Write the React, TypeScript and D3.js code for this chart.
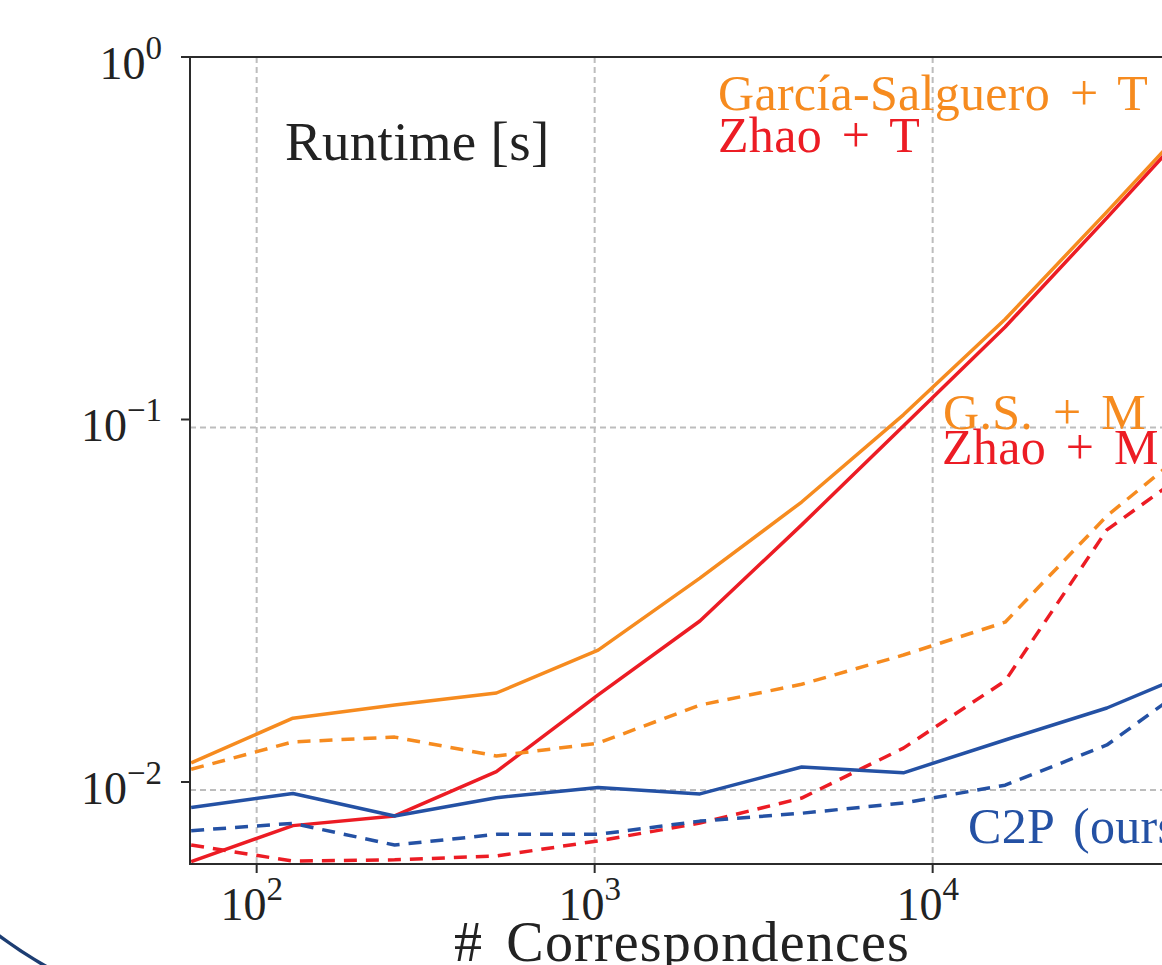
import React from 'react';
import * as d3 from 'd3';

// number of correspondences (x) and runtimes in seconds (y)
const sizes = [64, 128, 256, 512, 1024, 2048, 4096, 8192, 16384, 32768, 65536];
const garciaT = [0.01129, 0.0150, 0.0163, 0.0176, 0.0231, 0.0365, 0.0592, 0.103, 0.189, 0.374, 0.75];
const zhaoT = [0.00603, 0.00758, 0.00806, 0.01068, 0.0174, 0.0278, 0.0512, 0.096, 0.180, 0.360, 0.73];
const gsM = [0.01084, 0.0129, 0.0133, 0.0118, 0.0128, 0.0163, 0.0186, 0.0224, 0.0276, 0.0542, 0.092];
const zhaoM = [0.0067, 0.00605, 0.0061, 0.00625, 0.00688, 0.0077, 0.00903, 0.0124, 0.019, 0.0496, 0.079];
const c2pT = [0.00851, 0.0093, 0.00806, 0.00905, 0.00965, 0.00927, 0.011, 0.0106, 0.01306, 0.016, 0.021];
const c2pM = [0.00734, 0.00769, 0.0067, 0.00717, 0.00717, 0.0078, 0.0082, 0.00875, 0.0098, 0.01265, 0.0202];

const xTicks = [100, 1000, 10000];
const xTickExp = ['2', '3', '4'];
const yTicks = [1, 0.1, 0.01];
const yTickExp = ['0', '\u22121', '\u22122'];

const ORANGE = '#f68b1f';
const RED = '#ec1c24';
const BLUE = '#2451a4';
const FONT = '"Liberation Serif", "Times New Roman", serif';

const W = 1162;
const H = 965;
const left = 190;
const top = 57;
const bottom = 864;
const decadeX = 338;

const series = [
    {values: garciaT, color: ORANGE, dash: null},
    {values: zhaoT, color: RED, dash: null},
    {values: gsM, color: ORANGE, dash: '13,9'},
    {values: zhaoM, color: RED, dash: '13,9'},
    {values: c2pT, color: BLUE, dash: null},
    {values: c2pM, color: BLUE, dash: '13,9'},
];

export default function App() {
    const xMin = 63.5;
    const xMax = 131072;
    const x = d3.scaleLog()
        .domain([xMin, xMax])
        .range([left, left + decadeX * Math.log10(xMax / xMin)]);
    const y = d3.scaleLog().domain([0.00594, 1]).range([bottom, top]);
    const right = x(xMax);

    const line = d3.line<number>()
        .x((d, i) => x(sizes[i]))
        .y((d) => y(d));

    return (
        <svg width={W} height={H} style={{position: 'absolute', left: 0, top: 0, background: '#fff'}}
             fontFamily={FONT}>
            <defs>
                <clipPath id="plot">
                    <rect x={left} y={top} width={right - left} height={bottom - top}/>
                </clipPath>
                <clipPath id="corner">
                    <rect x={0} y={880} width={130} height={90}/>
                </clipPath>
            </defs>

            {/* grid */}
            <g stroke="#bdbdbd" strokeWidth={2} strokeDasharray="6,4">
                {xTicks.map((t) => (
                    <line key={t} x1={x(t)} x2={x(t)} y1={top} y2={bottom}/>
                ))}
                <g transform="translate(0,8)">
                    {yTicks.slice(1).map((t) => (
                        <line key={t} x1={left} x2={right} y1={y(t)} y2={y(t)}/>
                    ))}
                </g>
            </g>

            {/* lines */}
            <g clipPath="url(#plot)" fill="none" strokeWidth={3.5} strokeLinejoin="round">
                {series.map((s, i) => (
                    <path key={i} d={line(s.values) || ''} stroke={s.color}
                          strokeDasharray={s.dash || undefined}/>
                ))}
            </g>

            {/* spines and ticks */}
            <g stroke="#2b2b2b" strokeWidth={2} fill="none">
                <line x1={left} x2={left} y1={top - 1} y2={bottom + 1}/>
                <line x1={left - 9} x2={right} y1={top} y2={top}/>
                <line x1={left} x2={right} y1={bottom} y2={bottom}/>
                {yTicks.map((t) => (
                    <line key={t} x1={left - 9} x2={left} y1={y(t)} y2={y(t)}/>
                ))}
                {xTicks.map((t) => (
                    <line key={t} x1={x(t)} x2={x(t)} y1={bottom} y2={bottom + 9}/>
                ))}
            </g>

            {/* tick labels */}
            <g fill="#222">
                {yTicks.map((t, i) => (
                    <text key={t} x={162} y={y(t) + 22} textAnchor="end" fontSize={46}>
                        10<tspan fontSize={33} dy={-20}>{yTickExp[i]}</tspan>
                    </text>
                ))}
                {xTicks.map((t, i) => (
                    <text key={t} x={x(t) - 5} y={920} textAnchor="middle" fontSize={46}>
                        10<tspan fontSize={33} dy={-20}>{xTickExp[i]}</tspan>
                    </text>
                ))}
                <text x={682} y={961} textAnchor="middle" fontSize={56} letterSpacing={1.2}
                      wordSpacing={8}># Correspondences</text>
                <text x={285} y={160} fontSize={55} letterSpacing={0.3}>Runtime [s]</text>
            </g>

            {/* annotations */}
            <g fontSize={50} letterSpacing={0.3} wordSpacing={7}>
                <text x={718} y={110} fill={ORANGE}>García-Salguero + T</text>
                <text x={718} y={152} fill={RED}>Zhao + T</text>
                <text x={943} y={429} fill={ORANGE}>G.S. + M</text>
                <text x={942} y={464} fill={RED}>Zhao + M</text>
                <text x={968} y={843} fill={BLUE}>C2P (ours)</text>
            </g>

            {/* edge of the neighbouring figure */}
            <circle cx={285} cy={550} r={480} fill="none" stroke="#1d3d72" strokeWidth={3.5}
                    clipPath="url(#corner)"/>
        </svg>
    );
}
